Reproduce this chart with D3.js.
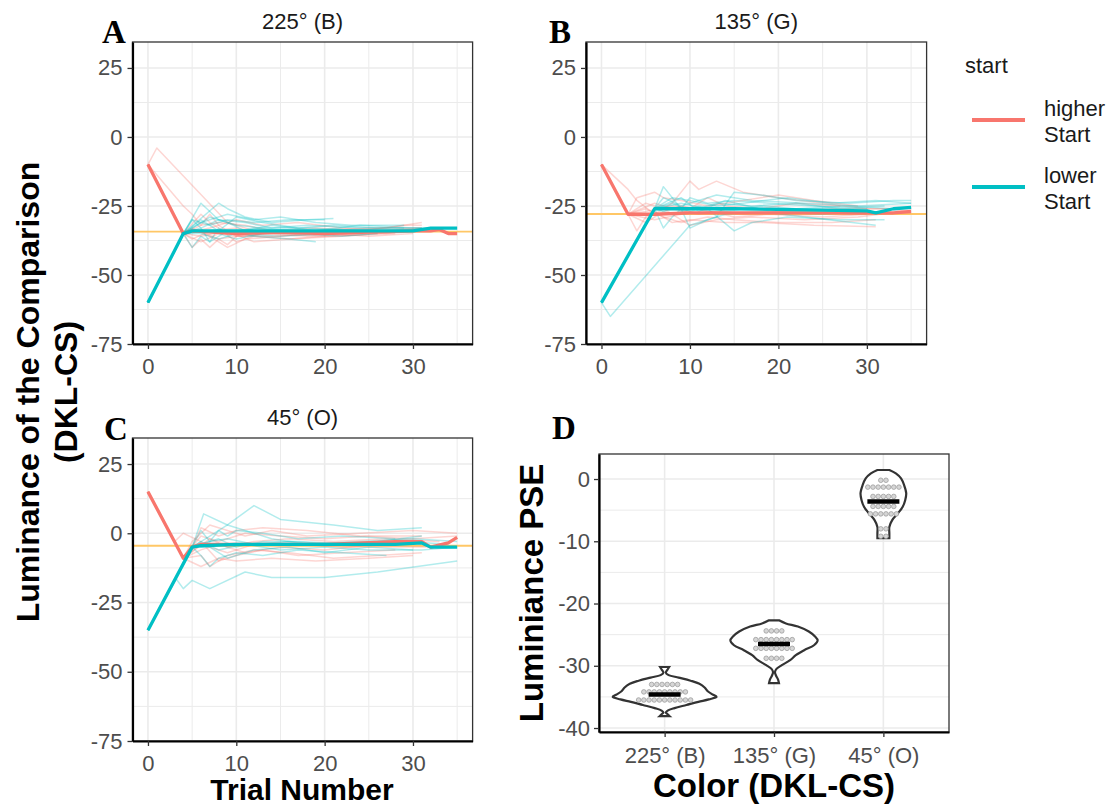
<!DOCTYPE html>
<html>
<head>
<meta charset="utf-8">
<script src="https://cdn.jsdelivr.net/npm/d3@7"></script>
<style>
  body { margin: 0; background: #fff; }
  svg { font-family: Arial, "Liberation Sans", sans-serif; }
</style>
</head>
<body>
<div id="chart"></div>
<script>
// axis ticks for the staircase panels
const trialTicks = [0, 10, 20, 30];
const trialMinor = [5, 15, 25, 35];
const lumTicks = [-75, -50, -25, 0, 25];
const lumMinor = [-62.5, -37.5, -12.5, 12.5];

const panelTitles = ["225° (B)", "135° (G)", "45° (O)"];
const panelLetters = ["A", "B", "C"];
const refPSE = [-34.3, -27.9, -4.5];

// ---- panel A : 225° (B) ----  [trial, luminance]
const higherA = [[0,-10],[4,-35],[5,-34],[10,-35],[15,-34.5],[20,-35],[25,-34.5],[30,-34],[32,-34],[33,-33.5],[34,-35],[35,-35]];
const lowerA = [[0,-60],[4,-35],[5,-34],[10,-34],[20,-34],[30,-34],[32,-33],[35,-33]];
const higherThinA = [
  [[0,-10],[1,-4],[9,-31],[12,-34],[18,-34],[25,-33],[31,-33]],
  [[0,-10],[4,-25],[5,-28],[6,-32],[7,-28],[8,-32],[10,-36],[14,-36],[20,-35],[26,-34],[31,-33]],
  [[0,-10],[4,-35],[5,-40],[6,-37],[7,-40],[8,-37],[9,-39],[10,-36],[14,-35],[20,-36],[28,-35]],
  [[0,-10],[4,-35],[6,-28],[7,-31],[8,-33],[10,-38],[12,-36],[16,-37],[22,-36],[30,-34]],
  [[0,-10],[4,-35],[5,-33],[7,-36],[9,-40],[11,-37],[15,-36],[21,-34],[27,-35],[31,-34]],
  [[0,-10],[4,-35],[6,-32],[8,-31],[11,-32],[14,-34],[19,-33],[24,-34],[29,-32],[31,-32]],
  [[0,-10],[4,-35],[6,-36],[9,-34],[12,-38],[16,-37],[20,-36],[26,-35]],
  [[0,-10],[4,-35],[7,-33],[10,-30],[13,-32],[17,-31],[22,-33],[28,-34],[33,-33]],
  [[0,-10],[4,-35],[6,-38],[8,-35],[11,-36],[15,-34],[20,-35],[25,-36],[30,-35]],
  [[0,-10],[4,-35],[5,-37],[7,-34],[10,-33],[13,-35],[18,-36],[23,-35],[29,-34]],
  [[0,-10],[4,-35],[6,-34],[8,-37],[12,-35],[17,-34],[22,-34],[27,-33],[31,-31]]
];
const lowerThinA = [
  [[0,-60],[4,-35],[6,-24],[7,-27],[8,-30],[10,-32],[13,-33],[18,-33],[25,-34]],
  [[0,-60],[4,-35],[8,-24],[9,-26],[11,-29],[14,-31],[18,-30],[21,-29.5]],
  [[0,-60],[4,-35],[5,-30],[6,-33],[7,-38],[8,-33],[9,-35],[12,-33],[16,-34],[22,-35],[28,-34]],
  [[0,-60],[4,-35],[5,-40],[6,-36],[7,-38],[9,-34],[12,-36],[16,-37],[19,-38]],
  [[0,-60],[4,-35],[6,-30],[8,-34],[10,-29],[13,-31],[17,-33],[21,-32],[26,-33],[31,-33]],
  [[0,-60],[4,-35],[7,-29],[9,-31],[11,-34],[14,-32],[19,-34],[24,-32],[30,-33],[35,-33]],
  [[0,-60],[4,-35],[6,-35],[8,-37],[10,-35],[15,-36],[21,-35],[27,-34]],
  [[0,-60],[4,-35],[6,-31],[9,-28],[12,-30],[15,-29],[19,-31],[23,-32],[29,-32]],
  [[0,-60],[4,-35],[5,-30],[7,-32],[9,-30],[12,-31],[16,-30],[20,-30]],
  [[0,-60],[4,-35],[6,-33],[8,-30],[11,-31],[14,-33],[18,-32],[24,-33],[29,-33]],
  [[0,-60],[4,-35],[7,-34],[10,-37],[13,-35],[17,-35],[22,-36],[26,-35]]
];

// ---- panel B : 135° (G) ----
const higherB = [[0,-10],[3,-28],[6,-28],[10,-27.5],[20,-27.5],[30,-27.5],[33,-27.5],[35,-27]];
const lowerB = [[0,-60],[6,-26],[15,-26],[25,-26.5],[30,-26.8],[31,-27.5],[33,-26],[35,-25.5]];
const higherThinB = [
  [[0,-10],[1,-13],[3,-19],[4,-23],[6,-28],[8,-24],[10,-16],[11,-19],[13,-16],[16,-20],[20,-22],[25,-24],[30,-26],[35,-26]],
  [[0,-10],[3,-28],[4,-34],[5,-29],[6,-27],[8,-31],[10,-30],[14,-31],[18,-31],[24,-32],[31,-32.5]],
  [[0,-10],[3,-28],[4,-22],[6,-20],[7,-22],[9,-23],[12,-25],[16,-23],[20,-21],[24,-23],[29,-25]],
  [[0,-10],[3,-28],[5,-26],[7,-29],[9,-31],[12,-29],[15,-30],[20,-31],[26,-31],[31,-30]],
  [[0,-10],[3,-28],[5,-31],[7,-27],[9,-25],[12,-27],[16,-28],[22,-27],[28,-28],[33,-28]],
  [[0,-10],[3,-28],[6,-24],[8,-26],[11,-28],[15,-26],[20,-27],[26,-26],[32,-26],[35,-27]],
  [[0,-10],[3,-28],[5,-24],[7,-26],[10,-32],[13,-30],[17,-29],[23,-30],[29,-29],[34,-27]],
  [[0,-10],[3,-28],[6,-30],[9,-28],[12,-22],[14,-25],[18,-26],[22,-24],[27,-25]],
  [[0,-10],[3,-28],[5,-27],[8,-25],[11,-26],[15,-29],[19,-28],[25,-29],[30,-28]]
];
const lowerThinB = [
  [[0,-60],[1,-65],[10,-32],[13,-29],[15,-20],[18,-21],[22,-23],[28,-24],[33,-23],[35,-23]],
  [[0,-60],[6,-26],[7,-18],[9,-26],[10,-22],[12,-24],[15,-23],[19,-24],[24,-25],[30,-26]],
  [[0,-60],[6,-26],[7,-33],[8,-29],[9,-26],[10,-33],[12,-30],[14,-28],[18,-27],[23,-29],[31,-32]],
  [[0,-60],[6,-26],[8,-22],[10,-23],[13,-25],[16,-24],[21,-22],[26,-24],[31,-23],[35,-24]],
  [[0,-60],[6,-26],[9,-24],[12,-26],[15,-34],[17,-31],[21,-29],[27,-30],[32,-30]],
  [[0,-60],[6,-26],[8,-28],[11,-25],[14,-27],[18,-25],[22,-26],[28,-25],[33,-26]],
  [[0,-60],[6,-26],[9,-22],[11,-27],[14,-23],[19,-27],[25,-28],[30,-27]],
  [[0,-60],[6,-26],[7,-22],[9,-25],[13,-21],[17,-23],[23,-24],[29,-25],[35,-24]],
  [[0,-60],[6,-26],[8,-24],[10,-27],[13,-24],[17,-25],[22,-24],[27,-26],[32,-25]]
];

// ---- panel C : 45° (O) ----
const higherC = [[0,15],[4,-9],[5,-5],[6,-4],[10,-4],[20,-4],[28,-3],[31,-3],[32,-5],[34,-3.5],[35,-1.5]];
const lowerC = [[0,-35],[5,-5],[6,-4.5],[10,-4],[20,-4],[28,-4],[31,-3.5],[32,-5],[35,-5]];
const higherThinC = [
  [[0,15],[4,-9],[5,-3],[7,3],[9,1],[11,-1],[14,1],[18,-1],[24,0],[30,1],[35,0]],
  [[0,15],[3,-3],[4,0],[6,-3],[8,-10],[10,-8],[13,-6],[17,-8],[22,-7],[28,-6]],
  [[0,15],[4,-9],[6,-8],[7,-12],[9,-8],[12,-6],[16,-7],[21,-9],[26,-8],[31,-7]],
  [[0,15],[4,-9],[5,-5],[6,2],[8,-1],[10,1],[13,2],[18,1],[24,-1],[30,-2],[35,-1]],
  [[0,15],[4,-9],[6,-6],[8,-4],[11,-7],[15,-5],[20,-6],[26,-4],[31,-4]],
  [[0,15],[4,-9],[6,-12],[8,-9],[10,-10],[14,-9],[19,-10],[25,-9],[30,-8]],
  [[0,15],[4,-9],[7,-2],[9,-5],[12,-3],[16,-2],[21,-3],[27,-2],[33,-3]],
  [[0,15],[4,-9],[6,-4],[9,-7],[12,-4],[16,-4],[22,-5],[28,-5],[34,-5]],
  [[0,15],[4,-9],[6,-1],[8,-3],[11,0],[15,-1],[20,-2],[25,-1],[31,-1]]
];
const lowerThinC = [
  [[0,-35],[3.2,-16.5],[4,-20],[5,-17],[7,-20],[11,-14],[14,-16],[20,-16],[26,-14],[35,-10]],
  [[0,-35],[5,-5],[6.3,7],[9,3],[12,10],[15,5],[18,4],[21,3],[26,1],[31,2]],
  [[0,-35],[5,-5],[6,1],[7,-3],[8,1],[9,-1],[10,1],[13,0],[17,-2],[22,-1],[28,-2]],
  [[0,-35],[5,-5],[6,-8],[7,-12],[8,-9],[10,-7],[13,-8],[17,-6],[22,-7],[27,-8]],
  [[0,-35],[5,-5],[7,-1],[9,3],[11,1],[14,-2],[18,-4],[24,-3],[30,-2],[35,-3]],
  [[0,-35],[5,-5],[6,-3],[8,-6],[11,-4],[15,-6],[20,-5],[25,-6],[31,-6],[35,-5]],
  [[0,-35],[5,-5],[8,-2],[10,-5],[13,-3],[17,-3],[23,-4],[29,-3],[34,-4]],
  [[0,-35],[5,-5],[7,-5],[9,-9],[12,-6],[16,-5],[20,-7],[25,-5],[30,-6]],
  [[0,-35],[5,-5],[7,-3],[9,-2],[12,-4],[16,-3],[21,-4],[26,-3],[31,-1]]
];

// ---- panel D : PSE per colour ----
const colorCats = ["225° (B)", "135° (G)", "45° (O)"];
const pseTicks = [-40, -30, -20, -10, 0];
const pseMinor = [-35, -25, -15, -5];
// violin outline: [PSE, relative density]
const violinB = [[-30.2,.087],[-30.6,.058],[-31.1,.023],[-31.5,.077],[-31.9,.27],[-32.4,.5],[-32.9,.67],[-33.5,.77],[-34.1,.83],[-34.6,.92],[-35.0,1.0],[-35.4,.85],[-35.8,.65],[-36.3,.42],[-36.8,.19],[-37.2,.058],[-37.5,.023],[-37.8,.058],[-38.1,.096]];
const violinG = [[-22.7,.096],[-23.2,.23],[-23.7,.46],[-24.5,.67],[-25.3,.79],[-25.9,.84],[-26.7,.77],[-27.5,.58],[-28.3,.42],[-29.1,.31],[-29.9,.15],[-30.5,.048],[-31.0,.019],[-31.6,.04],[-32.2,.077],[-32.8,.096]];
const violinO = [[1.45,.115],[0.9,.24],[0.1,.34],[-1.0,.40],[-2.3,.44],[-3.4,.42],[-4.5,.37],[-5.5,.28],[-6.6,.17],[-7.7,.115],[-8.7,.115],[-9.5,.115]];
// dot rows: [PSE, number of participants]
const dotsB = [[-33.0,6],[-34.2,9],[-35.5,11]];
const dotsG = [[-24.4,4],[-25.8,8],[-27.2,8],[-28.8,4]];
const dotsO = [[-0.2,2],[-1.3,7],[-2.8,5],[-4.4,5],[-5.6,6],[-8.0,2],[-9.2,2]];
const pseMeans = [-34.6, -26.5, -3.6];

const startLevels = ["higher\nStart", "lower\nStart"];
const startColors = ["#F8766D", "#00BFC4"];

const svg = d3.select("#chart").append("svg").attr("width", 1113).attr("height", 805);

const gridColor = "#EBEBEB";
const tickColor = "#4D4D4D";
const plainNum = d => String(d); // hyphen minus like R

// staircase panels
const panels = [
  { x0: 132.5, x1: 472.6, y0: 42, y1: 344, hi: higherA, lo: lowerA, hiThin: higherThinA, loThin: lowerThinA },
  { x0: 586, x1: 926.6, y0: 42, y1: 344, hi: higherB, lo: lowerB, hiThin: higherThinB, loThin: lowerThinB },
  { x0: 132.5, x1: 472.6, y0: 438, y1: 741, hi: higherC, lo: lowerC, hiThin: higherThinC, loThin: lowerThinC }
];
const letterPos = [[102, 43], [549, 43], [104, 440]];

panels.forEach((p, i) => {
  const x = d3.scaleLinear().domain([-1.75, 36.75]).range([p.x0, p.x1]);
  const y = d3.scaleLinear().domain([-75, 34.4]).range([p.y1, p.y0]);
  const g = svg.append("g");

  g.selectAll(".vminor").data(trialMinor).enter().append("line")
    .attr("x1", x).attr("x2", x).attr("y1", p.y0).attr("y2", p.y1)
    .attr("stroke", gridColor).attr("stroke-width", 1);
  g.selectAll(".hminor").data(lumMinor).enter().append("line")
    .attr("x1", p.x0).attr("x2", p.x1).attr("y1", y).attr("y2", y)
    .attr("stroke", gridColor).attr("stroke-width", 1);
  g.selectAll(".vmajor").data(trialTicks).enter().append("line")
    .attr("x1", x).attr("x2", x).attr("y1", p.y0).attr("y2", p.y1)
    .attr("stroke", gridColor).attr("stroke-width", 1.6);
  g.selectAll(".hmajor").data(lumTicks).enter().append("line")
    .attr("x1", p.x0).attr("x2", p.x1).attr("y1", y).attr("y2", y)
    .attr("stroke", gridColor).attr("stroke-width", 1.6);

  svg.append("clipPath").attr("id", "clip" + i).append("rect")
    .attr("x", p.x0).attr("y", p.y0).attr("width", p.x1 - p.x0).attr("height", p.y1 - p.y0);
  const plot = g.append("g").attr("clip-path", `url(#clip${i})`);

  // PSE reference line
  plot.append("line")
    .attr("x1", p.x0).attr("x2", p.x1).attr("y1", y(refPSE[i])).attr("y2", y(refPSE[i]))
    .attr("stroke", "#FFC766").attr("stroke-width", 1.8);

  const line = d3.line().x(d => x(d[0])).y(d => y(d[1]));

  plot.selectAll(".thinHi").data(p.hiThin).enter().append("path")
    .attr("d", line).attr("fill", "none").attr("stroke", startColors[0])
    .attr("stroke-width", 1.5).attr("stroke-opacity", 0.3).attr("stroke-linejoin", "round");
  plot.selectAll(".thinLo").data(p.loThin).enter().append("path")
    .attr("d", line).attr("fill", "none").attr("stroke", startColors[1])
    .attr("stroke-width", 1.5).attr("stroke-opacity", 0.3).attr("stroke-linejoin", "round");

  plot.append("path").datum(p.hi).attr("d", line).attr("fill", "none")
    .attr("stroke", startColors[0]).attr("stroke-width", 3.3).attr("stroke-linejoin", "round");
  plot.append("path").datum(p.lo).attr("d", line).attr("fill", "none")
    .attr("stroke", startColors[1]).attr("stroke-width", 3.3).attr("stroke-linejoin", "round");

  // panel border
  g.append("rect").attr("x", p.x0).attr("y", p.y0)
    .attr("width", p.x1 - p.x0).attr("height", p.y1 - p.y0)
    .attr("fill", "none").attr("stroke", "#333").attr("stroke-width", 1.3);

  const xAxis = g.append("g").attr("transform", `translate(0,${p.y1})`)
    .call(d3.axisBottom(x).tickValues(trialTicks).tickFormat(plainNum).tickSize(5).tickSizeOuter(0).tickPadding(9));
  const yAxis = g.append("g").attr("transform", `translate(${p.x0},0)`)
    .call(d3.axisLeft(y).tickValues(lumTicks).tickFormat(plainNum).tickSize(5).tickSizeOuter(0).tickPadding(5));
  [xAxis, yAxis].forEach(a => {
    a.select(".domain").attr("stroke", "#000").attr("stroke-width", 2.2);
    a.selectAll(".tick line").attr("stroke", "#333").attr("stroke-width", 1.3);
    a.selectAll(".tick text").attr("fill", tickColor).attr("font-size", 22).attr("font-family", "Arial, 'Liberation Sans', sans-serif");
  });

  g.append("text").attr("x", (p.x0 + p.x1) / 2).attr("y", p.y0 - 13)
    .attr("text-anchor", "middle").attr("font-size", 22).attr("fill", "#1A1A1A")
    .text(panelTitles[i]);

  svg.append("text").attr("x", letterPos[i][0]).attr("y", letterPos[i][1])
    .attr("font-family", "'Liberation Serif', 'Times New Roman', serif")
    .attr("font-weight", "bold").attr("font-size", 33).text(panelLetters[i]);
});

// shared axis titles
const yTitle = svg.append("text").attr("transform", "translate(39,392) rotate(-90)")
  .attr("text-anchor", "middle").attr("font-weight", "bold").attr("font-size", 32);
yTitle.append("tspan").attr("x", 0).attr("dy", 0).text("Luminance of the Comparison");
yTitle.append("tspan").attr("x", 0).attr("dy", 38).text("(DKL-CS)");

svg.append("text").attr("x", 302).attr("y", 800).attr("text-anchor", "middle")
  .attr("font-weight", "bold").attr("font-size", 30).text("Trial Number");

// legend
const legend = svg.append("g");
legend.append("text").attr("x", 965).attr("y", 73).attr("font-size", 22).attr("fill", "#1A1A1A").text("start");
startLevels.forEach((lab, k) => {
  const cy = 120 + k * 67;
  legend.append("line").attr("x1", 972).attr("x2", 1025).attr("y1", cy).attr("y2", cy)
    .attr("stroke", startColors[k]).attr("stroke-width", 3.8);
  const t = legend.append("text").attr("font-size", 22).attr("fill", "#1A1A1A");
  lab.split("\n").forEach((s, j) => {
    t.append("tspan").attr("x", 1044).attr("y", cy - 4 + j * 26).text(s);
  });
});

// ---- panel D ----
const dX0 = 599, dX1 = 949, dY0 = 454, dY1 = 732;
const xD = d3.scalePoint().domain(colorCats).range([dX0, dX1]).padding(0.6);
const yD = d3.scaleLinear().domain([-40.64, 4.02]).range([dY1, dY0]);
const wD = d3.scaleLinear().domain([0, 1]).range([0, xD.step() * 0.475]);
const gD = svg.append("g");

gD.selectAll(".hminor").data(pseMinor).enter().append("line")
  .attr("x1", dX0).attr("x2", dX1).attr("y1", yD).attr("y2", yD)
  .attr("stroke", gridColor).attr("stroke-width", 1);
gD.selectAll(".hmajor").data(pseTicks).enter().append("line")
  .attr("x1", dX0).attr("x2", dX1).attr("y1", yD).attr("y2", yD)
  .attr("stroke", gridColor).attr("stroke-width", 1.6);
gD.selectAll(".vmajor").data(colorCats).enter().append("line")
  .attr("x1", xD).attr("x2", xD).attr("y1", dY0).attr("y2", dY1)
  .attr("stroke", gridColor).attr("stroke-width", 1.6);

const violins = [violinB, violinG, violinO];
const dotRows = [dotsB, dotsG, dotsO];

colorCats.forEach((c, i) => {
  const cx = xD(c);
  const area = d3.area()
    .y(d => yD(d[0]))
    .x0(d => cx - wD(d[1]))
    .x1(d => cx + wD(d[1]))
    .curve(d3.curveCatmullRom);
  gD.append("path").datum(violins[i]).attr("d", area)
    .attr("fill", "#fff").attr("stroke", "#333").attr("stroke-width", 2.2);

  dotRows[i].forEach(r => {
    const n = r[1];
    gD.selectAll(null).data(d3.range(n)).enter().append("circle")
      .attr("cx", k => cx + (k - (n - 1) / 2) * 5.2)
      .attr("cy", yD(r[0]))
      .attr("r", 2.3)
      .attr("fill", "#D6D6D6").attr("stroke", "#9E9E9E").attr("stroke-width", 0.8);
  });

  gD.append("line").attr("x1", cx - 16).attr("x2", cx + 16)
    .attr("y1", yD(pseMeans[i])).attr("y2", yD(pseMeans[i]))
    .attr("stroke", "#000").attr("stroke-width", 4.5);
});

gD.append("rect").attr("x", dX0).attr("y", dY0).attr("width", dX1 - dX0).attr("height", dY1 - dY0)
  .attr("fill", "none").attr("stroke", "#333").attr("stroke-width", 1.3);

const xAxisD = gD.append("g").attr("transform", `translate(0,${dY1})`)
  .call(d3.axisBottom(xD).tickSize(5).tickSizeOuter(0).tickPadding(10));
const yAxisD = gD.append("g").attr("transform", `translate(${dX0},0)`)
  .call(d3.axisLeft(yD).tickValues(pseTicks).tickFormat(plainNum).tickSize(5).tickSizeOuter(0).tickPadding(4));
[xAxisD, yAxisD].forEach(a => {
  a.select(".domain").attr("stroke", "#000").attr("stroke-width", 2.2);
  a.selectAll(".tick line").attr("stroke", "#333").attr("stroke-width", 1.3);
  a.selectAll(".tick text").attr("fill", tickColor).attr("font-size", 22).attr("font-family", "Arial, 'Liberation Sans', sans-serif");
});

svg.append("text").attr("transform", "translate(543,593) rotate(-90)")
  .attr("text-anchor", "middle").attr("font-weight", "bold").attr("font-size", 33)
  .text("Luminiance PSE");
svg.append("text").attr("x", 774).attr("y", 797).attr("text-anchor", "middle")
  .attr("font-weight", "bold").attr("font-size", 33).text("Color (DKL-CS)");
svg.append("text").attr("x", 552).attr("y", 439)
  .attr("font-family", "'Liberation Serif', 'Times New Roman', serif")
  .attr("font-weight", "bold").attr("font-size", 33).text("D");
</script>
</body>
</html>
